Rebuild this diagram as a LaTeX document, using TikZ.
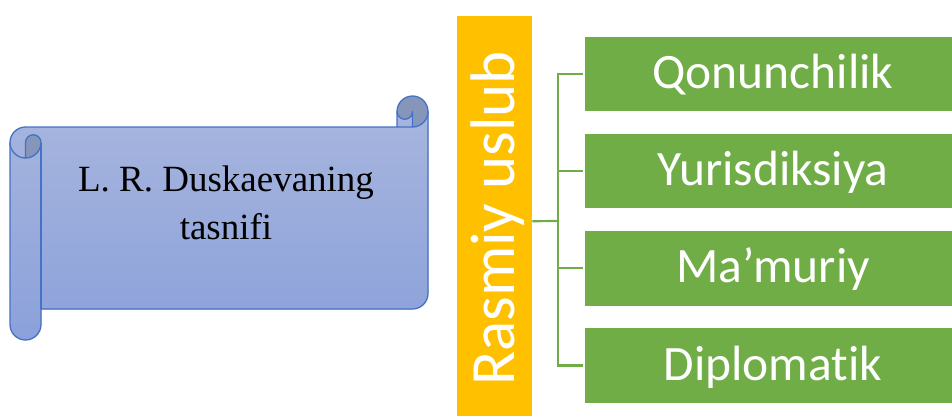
\documentclass[tikz,border=0pt]{standalone}
\usepackage{fontspec}
\setmainfont{Liberation Serif}
\newfontfamily\calibrifont[Ligatures=NoCommon]{Carlito}
\definecolor{accgreen}{HTML}{70AD47}
\definecolor{accyellow}{HTML}{FFC000}
\definecolor{scrollline}{HTML}{4472C4}
\definecolor{scrolltop}{RGB}{167,181,222}
\definecolor{scrollbottom}{RGB}{139,161,218}
\definecolor{scrolldark}{RGB}{134,149,186}
\tikzset{
  greenbox/.style={fill=accgreen, draw=none, minimum width=376pt, minimum height=74.5pt,
    inner sep=0pt, text=white, font=\calibrifont\fontsize{49.5}{49.5}\selectfont,
    text height=29pt, text depth=0pt},
  conn/.style={draw=accgreen, line width=2.2pt},
  scrolledge/.style={draw=scrollline, line width=1.3pt, line join=round},
}
\begin{document}
\begin{tikzpicture}[x=1pt,y=-1pt]
\useasboundingbox (0,0) rectangle (952,415);

% ---- scroll (horizontal scroll shape) ----
\fill[top color=scrolltop, bottom color=scrollbottom]
  (428,111.5) arc[start angle=0, delta angle=90, radius=15.5]
  -- (412.5,111.5) arc[start angle=0, delta angle=180, radius=7.75]
  -- (397,127) -- (25.5,127) arc[start angle=270, delta angle=-90, radius=15.5]
  -- (10,324.5) arc[start angle=180, delta angle=-180, radius=15.5]
  -- (41,309) -- (412.5,309) arc[start angle=90, delta angle=-90, radius=15.5]
  -- cycle;
\fill[scrolldark]
  (25.5,158) arc[start angle=90, delta angle=-90, radius=15.5]
  arc[start angle=0, delta angle=-180, radius=7.75] -- cycle;
\fill[scrolldark]
  (412.5,127) arc[start angle=90, delta angle=-270, radius=15.5]
  arc[start angle=180, delta angle=-180, radius=7.75] -- cycle;
\draw[scrolledge]
  (10,142.5) arc[start angle=180, delta angle=90, radius=15.5]
  -- (397,127) -- (397,111.5) arc[start angle=180, delta angle=180, radius=15.5]
  -- (428,293.5) arc[start angle=0, delta angle=90, radius=15.5]
  -- (41,309) -- (41,324.5) arc[start angle=0, delta angle=180, radius=15.5]
  -- cycle;
\draw[scrolledge] (397,127) -- (412.5,127) arc[start angle=90, delta angle=-90, radius=15.5];
\draw[scrolledge] (412.5,127) -- (412.5,111.5) arc[start angle=0, delta angle=180, radius=7.75];
\draw[scrolledge] (25.5,158) -- (25.5,142.5) arc[start angle=180, delta angle=180, radius=7.75]
  arc[start angle=0, delta angle=180, radius=15.5];
\draw[scrolledge] (41,142.5) -- (41,309);
\node[align=center, inner sep=0pt, font=\fontsize{37}{48.3}\selectfont] (scrolltext)
  at (226,202.5) {L. R. Duskaevaning\\tasnifi};

% ---- yellow bar ----
\node[fill=accyellow, draw=none, minimum width=75pt, minimum height=410pt, inner sep=0pt,
  anchor=north west] (bar) at (457,16) {};
\node[rotate=90, anchor=base west, inner sep=0pt, text=white,
  font=\calibrifont\fontsize{63}{63}\selectfont] (barlabel) at (514.5,386) {Rasmiy uslub};

% ---- green boxes ----
\node[greenbox] (b1) at (773,73.8) {Qonunchilik};
\node[greenbox] (b2) at (773,171) {Yurisdiksiya};
\node[greenbox] (b3) at (773,268.3) {Ma’muriy};
\node[greenbox] (b4) at (773,365.5) {Diplomatik};

% ---- connectors ----
\coordinate (hub) at (558,221);
\draw[conn] (bar.east) -- (hub);
\draw[conn, shorten >=2pt] (hub) |- (b1.west);
\draw[conn, shorten >=2pt] (hub) |- (b2.west);
\draw[conn, shorten >=2pt] (hub) |- (b3.west);
\draw[conn, shorten >=2pt] (hub) |- (b4.west);
\end{tikzpicture}
\end{document}
